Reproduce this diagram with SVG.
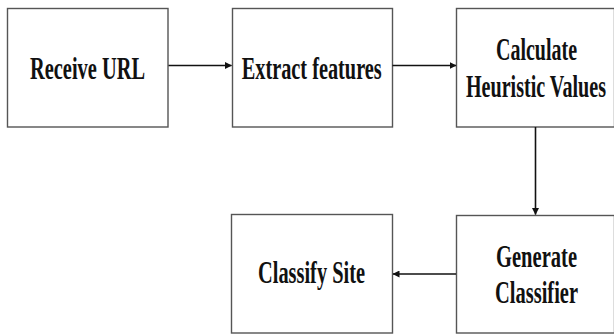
<svg xmlns="http://www.w3.org/2000/svg" width="614" height="335" viewBox="0 0 614 335">
<defs>
<style>
.box{fill:#fff;stroke:#555;stroke-width:1.4}
.lbl{font-family:"Liberation Serif","Times New Roman",serif;font-weight:bold;font-size:32px;fill:#111;text-anchor:middle}
.conn{stroke:#111;stroke-width:1.6;fill:none}
</style>
<marker id="ah" markerWidth="7" markerHeight="7" refX="6.5" refY="3.5" orient="auto" markerUnits="userSpaceOnUse">
<path d="M0,0 L7,3.5 L0,7 Z" fill="#111"/>
</marker>
</defs>
<rect width="614" height="335" fill="#fff"/>
<g id="receive-url">
<rect class="box" x="7.5" y="8.5" width="160.5" height="118.5"/>
<text class="lbl" x="87.5" y="79" textLength="115" lengthAdjust="spacingAndGlyphs">Receive URL</text>
</g>
<g id="extract-features">
<rect class="box" x="232.5" y="8.5" width="160" height="118.5"/>
<text class="lbl" x="311.7" y="78.5" textLength="140" lengthAdjust="spacingAndGlyphs">Extract features</text>
</g>
<g id="calculate-heuristic">
<rect class="box" x="456.5" y="8.5" width="158" height="118.5"/>
<text class="lbl" x="536.5" y="60" textLength="81" lengthAdjust="spacingAndGlyphs">Calculate</text>
<text class="lbl" x="536" y="97" textLength="140" lengthAdjust="spacingAndGlyphs">Heuristic Values</text>
</g>
<g id="generate-classifier">
<rect class="box" x="456.5" y="215.5" width="158" height="117.5"/>
<text class="lbl" x="536.5" y="267" textLength="81" lengthAdjust="spacingAndGlyphs">Generate</text>
<text class="lbl" x="536.5" y="303" textLength="83" lengthAdjust="spacingAndGlyphs">Classifier</text>
</g>
<g id="classify-site">
<rect class="box" x="231.5" y="214.5" width="161" height="118.5"/>
<text class="lbl" x="311.5" y="283" textLength="107" lengthAdjust="spacingAndGlyphs">Classify Site</text>
</g>
<g id="connectors">
<line class="conn" x1="168.5" y1="65.5" x2="231.5" y2="65.5" marker-end="url(#ah)"/>
<line class="conn" x1="392.5" y1="65.5" x2="456" y2="65.5" marker-end="url(#ah)"/>
<line class="conn" x1="535.5" y1="127" x2="535.5" y2="214.5" marker-end="url(#ah)"/>
<line class="conn" x1="456" y1="274" x2="393" y2="274" marker-end="url(#ah)"/>
</g>
</svg>
